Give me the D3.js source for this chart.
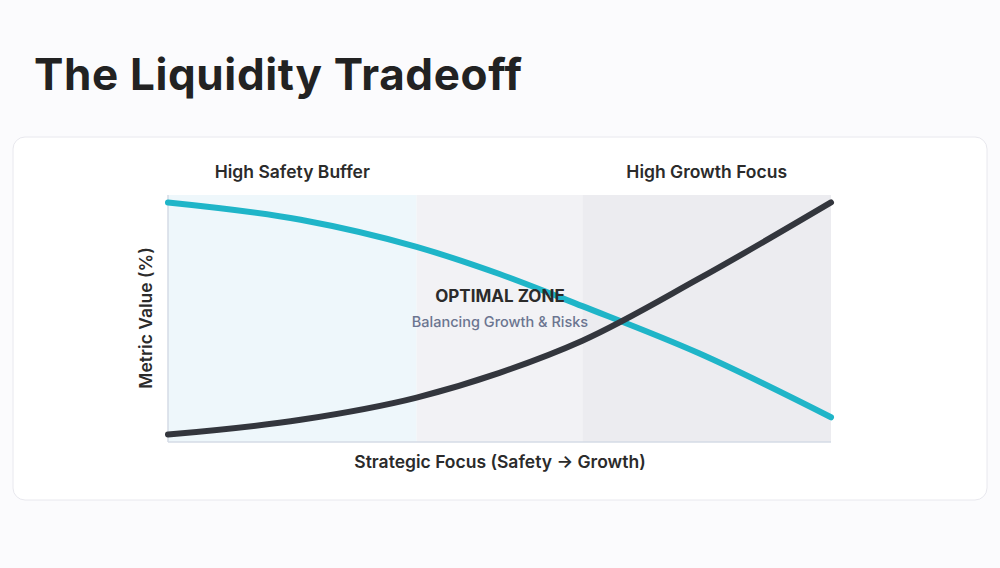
<!DOCTYPE html>
<html><head><meta charset="utf-8">
<script src="https://cdn.jsdelivr.net/npm/d3@7"></script>
<style>body{margin:0;background:#fff;font-family:Inter,"Noto Sans",sans-serif;}</style>
</head><body>
<svg id="c" width="1000" height="568"></svg>
<script>
// data
var xs = [0, 20, 37.5, 50, 62.5, 80, 100];
var safety = [97, 90, 79, 68, 55, 36, 10];
var growth = [3, 9, 18, 28, 41, 66, 97];
var zones = [[0, 37.5, '#eef7fb'], [37.5, 62.5, '#f2f2f5'], [62.5, 100, '#ececf0']];
var zoneLabels = [['High Safety Buffer', 18.75], ['High Growth Focus', 81.25]];

var svg = d3.select('#c');
svg.append('rect').attr('width',1000).attr('height',568).attr('fill','#fbfbfd');
svg.append('text').attr('x',34).attr('y',90).attr('font-size',44).attr('font-weight',700)
    .attr('fill','#222').attr('textLength',488).text('The Liquidity Tradeoff');
svg.append('rect').attr('x',13).attr('y',137).attr('width',974).attr('height',363).attr('rx',12)
    .attr('fill','#fff').attr('stroke','#e8e8ee');

var x = d3.scaleLinear().domain([0,100]).range([168,831]);
var y = d3.scaleLinear().domain([0,100]).range([442,195]);

zones.forEach(function(z) {
    svg.append('rect').attr('x',x(z[0])).attr('y',y(100)).attr('width',x(z[1])-x(z[0]))
	.attr('height',y(0)-y(100)).attr('fill',z[2]);
});
svg.append('line').attr('x1',x(0)).attr('x2',x(100)).attr('y1',y(0)).attr('y2',y(0)).attr('stroke','#d5dbe6').attr('stroke-width',1.5);
svg.append('line').attr('x1',x(0)).attr('x2',x(0)).attr('y1',y(0)).attr('y2',y(100)).attr('stroke','#d5dbe6').attr('stroke-width',1.5);

zoneLabels.forEach(function(l) {
    svg.append('text').attr('x',x(l[1])).attr('y',178).attr('text-anchor','middle')
	.attr('font-size',17.5).attr('font-weight',600).attr('fill','#2b2b2b').text(l[0]);
});

var line = d3.line().x(function(d,i){return x(xs[i]);}).y(function(d){return y(d);}).curve(d3.curveMonotoneX);
svg.append('path').attr('d',line(safety)).attr('fill','none').attr('stroke','#1fb5c8').attr('stroke-width',6).attr('stroke-linecap','round');
svg.append('path').attr('d',line(growth)).attr('fill','none').attr('stroke','#33363d').attr('stroke-width',6).attr('stroke-linecap','round');

svg.append('text').attr('x',500).attr('y',302).attr('text-anchor','middle').attr('font-size',17)
    .attr('font-weight',700).attr('fill','#2b2b2b').text('OPTIMAL ZONE');
svg.append('text').attr('x',500).attr('y',327).attr('text-anchor','middle').attr('font-size',14.5)
    .attr('font-weight',500).attr('fill','#6b7590').text('Balancing Growth & Risks');

svg.append('text').attr('x',500).attr('y',468).attr('text-anchor','middle').attr('font-size',17.5)
    .attr('font-weight',600).attr('fill','#2b2b2b').text('Strategic Focus (Safety \u2192 Growth)');
svg.append('text').attr('transform','translate(152,318) rotate(-90)').attr('text-anchor','middle')
    .attr('font-size',17.5).attr('font-weight',600).attr('fill','#2b2b2b').text('Metric Value (%)');
</script>
</body></html>
